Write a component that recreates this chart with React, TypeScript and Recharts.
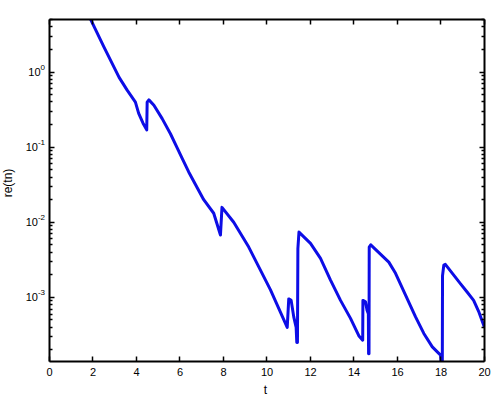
import React from 'react';
import { LineChart, Line, XAxis, YAxis, Label } from 'recharts';

const tValues = [
  1.8, 2.5, 3.2, 3.57, 3.95, 4.1, 4.3, 4.47, 4.49, 4.57, 4.8, 5.18, 5.56, 5.87, 6.1, 6.4,
  7.09, 7.55, 7.86, 7.93, 8.47, 9.16, 10.16, 10.93, 11.0, 11.11, 11.23, 11.34, 11.37,
  11.4, 11.42, 11.47, 12.0, 12.46, 12.92, 13.38, 13.84, 14.22, 14.4, 14.41, 14.53,
  14.6, 14.66, 14.67, 14.69, 14.7, 14.77, 15.6, 15.91, 16.37, 16.83, 17.21, 17.6,
  17.98, 18.04, 18.06, 18.07, 18.13, 18.2, 18.9, 19.2, 19.5, 19.75, 20.0,
];
const reValues = [
  5.71, 2.17, 0.851, 0.575, 0.398, 0.282, 0.209, 0.17, 0.398, 0.427, 0.363, 0.24, 0.151,
  0.0977, 0.0708, 0.0468, 0.02, 0.0132, 0.00676, 0.0158, 0.01, 0.00468, 0.00126, 0.000398,
  0.000955, 0.000912, 0.00055, 0.000398, 0.000251, 0.000251, 0.00447, 0.00741, 0.00525,
  0.00331, 0.0017, 0.000912, 0.000525, 0.000309, 0.000269, 0.000912, 0.000871, 0.000676,
  0.000603, 0.000178, 0.000178, 0.00468, 0.00501, 0.00295, 0.00209, 0.00107, 0.00055,
  0.000331, 0.000219, 0.00017, 0.0001, 0.0001, 0.00195, 0.00269, 0.00275, 0.00151,
  0.00118, 0.000912, 0.00063, 0.000398,
];
const xTicks = [0, 2, 4, 6, 8, 10, 12, 14, 16, 18, 20];
const xDomain = [0, 20];
const yDomain = [1.4e-4, 5.02];
const yDecades = [-4, -3, -2, -1, 0];
const yMultipliers = [1, 2, 3, 4, 5, 6, 7, 8, 9];

const data = tValues.map((t, i) => ({ t, re: reValues[i] }));
const yTicks: number[] = [];
yDecades.forEach((e) => {
  yMultipliers.forEach((m) => {
    const v = m * Math.pow(10, e);
    if (v >= yDomain[0] && v <= yDomain[1] * 1.0001) yTicks.push(v);
  });
});

const FONT = '"Liberation Sans", Arial, Helvetica, sans-serif';
const LINE_COLOR = '#0d0de6';
const TICK_W = 1.5;

const isMajor = (v: number) => {
  const lg = Math.log10(v);
  return Math.abs(lg - Math.round(lg)) < 1e-6;
};
const crispX = (v: number) => Math.floor(v - 0.5) + 0.5;
const crispY = (v: number) => Math.floor(v) + 0.5;

const BottomTick = (props: any) => {
  const { x, y, payload } = props;
  const xx = crispX(x);
  return (
    <g>
      <path d={`M${xx},${y}V${y - 5}`} stroke="#000" strokeWidth={TICK_W} fill="none" />
      <text x={x} y={y + 14.5} textAnchor="middle" fontSize={11} fontFamily={FONT} fill="#000">
        {payload.value}
      </text>
    </g>
  );
};

const TopTick = (props: any) => {
  const { x, y } = props;
  const xx = crispX(x);
  return <path d={`M${xx},${y}V${y + 5}`} stroke="#000" strokeWidth={TICK_W} fill="none" />;
};

const LeftTick = (props: any) => {
  const { x, y, payload } = props;
  const v = payload.value;
  const major = isMajor(v);
  const yy = crispY(y);
  const len = major ? 5 : 3;
  return (
    <g>
      <path d={`M${x},${yy}H${x + len}`} stroke="#000" strokeWidth={TICK_W} fill="none" />
      {major && (
        <text x={x - 4.5} y={y + 3.5} textAnchor="end" fontSize={11} fontFamily={FONT} fill="#000">
          10
          <tspan dy={-5.5} fontSize={8}>
            {Math.round(Math.log10(v))}
          </tspan>
        </text>
      )}
    </g>
  );
};

const RightTick = (props: any) => {
  const { x, y, payload } = props;
  const major = isMajor(payload.value);
  const yy = crispY(y);
  const len = major ? 5 : 3;
  return <path d={`M${x},${yy}H${x - len}`} stroke="#000" strokeWidth={TICK_W} fill="none" />;
};

const axisLineStyle = { stroke: '#000', strokeWidth: 2 };

export default function App() {
  return (
    <div style={{ position: 'absolute', left: 0, top: 0, width: 497, height: 404, background: '#fff' }}>
      <LineChart
        width={497}
        height={404}
        data={data}
        margin={{ top: 18.5, right: 11.5, bottom: 12.5, left: 0.5 }}
      >
        <XAxis
          dataKey="t"
          type="number"
          domain={xDomain}
          ticks={xTicks}
          interval={0}
          allowDataOverflow
          height={30}
          tickSize={0}
          tickMargin={0}
          tickLine={false}
          stroke="#000"
          axisLine={axisLineStyle}
          tick={BottomTick}
        >
          <Label
            content={(p: any) => {
              const vb = p.viewBox;
              return (
                <text x={vb.x + vb.width / 2 - 1.5} y={vb.y + 32} textAnchor="middle" fontSize={12} fontFamily={FONT} fill="#000">
                  t
                </text>
              );
            }}
          />
        </XAxis>
        <XAxis
          xAxisId="top"
          dataKey="t"
          type="number"
          orientation="top"
          domain={xDomain}
          ticks={xTicks}
          interval={0}
          allowDataOverflow
          height={1}
          tickSize={0}
          tickMargin={0}
          tickLine={false}
          stroke="#000"
          axisLine={axisLineStyle}
          tick={TopTick}
        />
        <YAxis
          scale="log"
          type="number"
          domain={yDomain}
          ticks={yTicks}
          interval={0}
          allowDataOverflow
          width={49}
          tickSize={0}
          tickMargin={0}
          tickLine={false}
          stroke="#000"
          axisLine={axisLineStyle}
          tick={LeftTick}
        >
          <Label
            content={(p: any) => {
              const vb = p.viewBox;
              const lx = vb.x + 11.5;
              const ly = 183;
              return (
                <text x={lx} y={ly} transform={`rotate(-90 ${lx} ${ly})`} textAnchor="middle" fontSize={12} fontFamily={FONT} fill="#000">
                  re(tn)
                </text>
              );
            }}
          />
        </YAxis>
        <YAxis
          yAxisId="right"
          orientation="right"
          scale="log"
          type="number"
          domain={yDomain}
          ticks={yTicks}
          interval={0}
          allowDataOverflow
          width={1}
          tickSize={0}
          tickMargin={0}
          tickLine={false}
          stroke="#000"
          axisLine={axisLineStyle}
          tick={RightTick}
        />
        <Line
          xAxisId="top"
          yAxisId="right"
          dataKey="re"
          stroke="none"
          dot={false}
          activeDot={false}
          isAnimationActive={false}
        />
        <Line
          dataKey="re"
          type="linear"
          stroke={LINE_COLOR}
          strokeWidth={3}
          strokeLinejoin="round"
          dot={false}
          activeDot={false}
          isAnimationActive={false}
        />
      </LineChart>
    </div>
  );
}
